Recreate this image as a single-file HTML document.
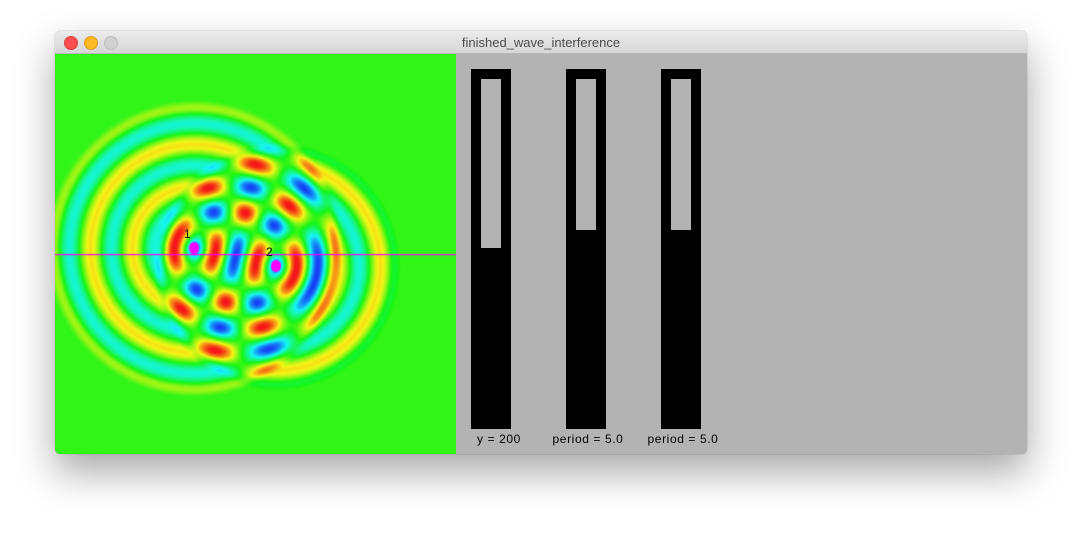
<!DOCTYPE html>
<html><head><meta charset="utf-8">
<style>
html,body{margin:0;padding:0;background:#fff;width:1082px;height:534px;overflow:hidden;font-family:"Liberation Sans",sans-serif}
#win{position:absolute;left:55px;top:31px;width:972px;height:423px;border-radius:5px;overflow:hidden;box-shadow:0 18px 40px rgba(0,0,0,0.35),0 0 1px rgba(0,0,0,0.4);background:#b3b3b3}
#titlebar{position:absolute;left:0;top:0;width:972px;height:22px;background:linear-gradient(#ececec,#d6d6d6);border-bottom:1px solid #b8b8b8}
.tl{position:absolute;top:5px;width:12px;height:12px;border-radius:50%}
#title{position:absolute;left:0;width:972px;top:4px;text-align:center;font-size:13px;color:#4d4d4d}
#wave{position:absolute;left:0;top:23px}
.slider{position:absolute;top:38px;width:40px;height:360px;background:#000}
.slider .inner{position:absolute;left:10px;top:10px;width:20px;background:#b3b3b3}
.lbl{position:absolute;top:401px;font-size:12px;color:#000;text-align:center;width:100px;letter-spacing:0.6px}
.num{position:absolute;font-size:12px;color:#000}
</style></head><body>
<div id="win">
 <div id="titlebar">
  <div class="tl" style="left:9px;background:#fc4e4e;border:0.5px solid #df3b3b"></div>
  <div class="tl" style="left:29px;background:#fdb826;border:0.5px solid #dfa020"></div>
  <div class="tl" style="left:49px;background:#d0d0d0;border:0.5px solid #bcbcbc"></div>
  <div id="title">finished_wave_interference</div>
 </div>
 <canvas id="wave" width="401" height="400"></canvas>
 <div class="num" style="left:129px;top:196px">1</div>
 <div class="num" style="left:211px;top:214px">2</div>
 <div id="sliders"></div>
</div>
<script>
const sourceX=[139,221];
const sourceY=[194,212];
const frontRadius=[150,125];
const wavelength=42;
const peakRadius=20;
const lineY=200;
const sliderValues=[200,5.0,5.0];
const sliderFill=[0.497,0.444,0.444];
const sliderText=["y = 200","period = 5.0","period = 5.0"];
const labelShift=[8,2,2];

const cv=document.getElementById('wave');
const ctx=cv.getContext('2d');
const W=401,H=400;
const img=ctx.createImageData(W,H);
function hsv(h,s,v){h=((h%360)+360)%360;const c=v*s,x=c*(1-Math.abs((h/60)%2-1)),m=v-c;let r,g,b;
 if(h<60){r=c;g=x;b=0}else if(h<120){r=x;g=c;b=0}else if(h<180){r=0;g=c;b=x}else if(h<240){r=0;g=x;b=c}else if(h<300){r=x;g=0;b=c}else{r=c;g=0;b=x}
 return [(r+m)*255,(g+m)*255,(b+m)*255];}
for(let y=0;y<H;y++)for(let x=0;x<W;x++){
 let v=0;
 for(let i=0;i<sourceX.length;i++){
  const r=Math.hypot(x-sourceX[i],y-sourceY[i]);
  let e=(frontRadius[i]-r)/14;e=Math.max(0,Math.min(1,e));e=e*e*(3-2*e);
  v+=e*Math.cos(2*Math.PI*(r-peakRadius)/wavelength);
 }
 v=Math.max(-2,Math.min(2,v));
 const c=hsv(113-58*v,0.91,0.96);
 const k=(y*W+x)*4;img.data[k]=c[0];img.data[k+1]=c[1];img.data[k+2]=c[2];img.data[k+3]=255;
}
ctx.putImageData(img,0,0);
ctx.fillStyle='#ff00ff';
ctx.fillRect(0,lineY,W,1.2);
for(let i=0;i<sourceX.length;i++){ctx.beginPath();ctx.ellipse(sourceX[i],sourceY[i],5,6,0,0,Math.PI*2);ctx.fill();}

const sl=document.getElementById('sliders');
for(let i=0;i<sliderValues.length;i++){
 const s=document.createElement('div');s.className='slider';s.style.left=(416+95*i)+'px';
 
 
 const inn=document.createElement('div');inn.className='inner';inn.style.height=(340*sliderFill[i])+'px';
 
 
 s.appendChild(inn);sl.appendChild(s);
 const l=document.createElement('div');l.className='lbl';l.style.left=(386+95*i+labelShift[i])+'px';l.textContent=sliderText[i];
 
 
 sl.appendChild(l);
}
</script>
</body></html>
